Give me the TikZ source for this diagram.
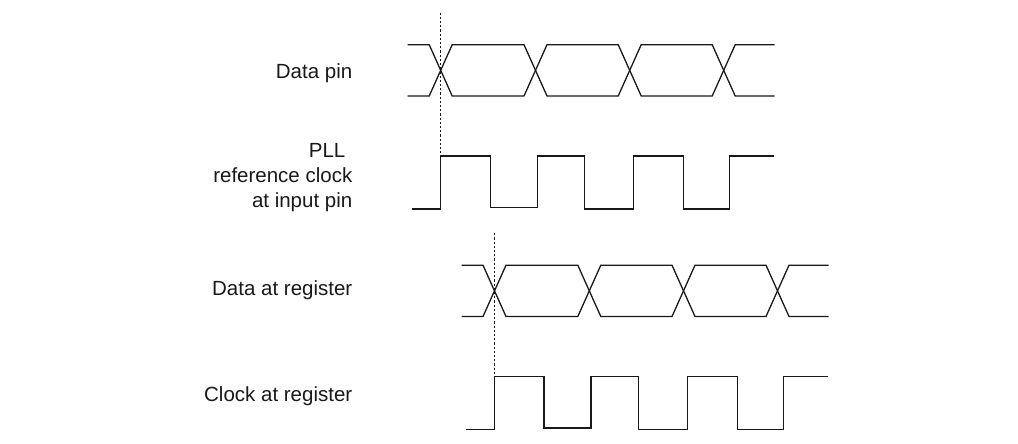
\documentclass[tikz,border=0pt]{standalone}
\usepackage{fontspec}
\setmainfont{Liberation Sans}
\begin{document}
\begin{tikzpicture}[x=0.5pt, y=-0.5pt,
    wave/.style={line width=0.65pt, black!90},
    guide/.style={line width=0.6pt, black!90, dash pattern=on 1.1pt off 1pt},
    lbl/.style={anchor=base east, font=\fontsize{10.25}{12.5}\selectfont, align=right, inner sep=0pt, text=black!90}
]
    \useasboundingbox (0,0) rectangle (1018,444);

    % upper pair at the pins, lower pair at the register
    \foreach \sx/\sy/\nm in {440.7/0/pin, 494.5/220.5/reg} {
      \begin{scope}[shift={(\sx,\sy)}]
        % data eye
        \draw[wave] (-33,44.7) -- (-11.5,44.7) -- (11.5,96) -- (83.3,96) -- (106.3,44.7) -- (177.5,44.7)
            -- (200.5,96) -- (271.5,96) -- (294.5,44.7) -- (334,44.7);
        \draw[wave] (-33,96) -- (-11.5,96) -- (11.5,44.7) -- (83.3,44.7) -- (106.3,96) -- (177.5,96)
            -- (200.5,44.7) -- (271.5,44.7) -- (294.5,96) -- (334,96);
        % clock
        \draw[wave] (-29,209) -- (0,209) -- (0,156) -- (49.5,156) -- (49.5,207.5) -- (96.5,207.5)
            -- (96.5,156) -- (144,156) -- (144,209) -- (193,209) -- (193,156) -- (243,156)
            -- (243,209) -- (289,209) -- (289,156) -- (333.5,156);
        \coordinate (\nm-top) at (0,12.7);
        \coordinate (\nm-edge) at (0,156);
      \end{scope}
    }
    \draw[guide] (pin-top) -- (pin-edge);
    \draw[guide] (reg-top) -- (reg-edge);

    \node[lbl] (datapin) at (352.7,78.3) {Data pin};
    \node[lbl] (pllclk) at (352.7,207.3) {PLL\kern3.5pt\\reference clock\\at input pin};
    \node[lbl] (datareg) at (352.7,295) {Data at register};
    \node[lbl] (clkreg) at (352.7,401.7) {Clock at register};
\end{tikzpicture}
\end{document}
